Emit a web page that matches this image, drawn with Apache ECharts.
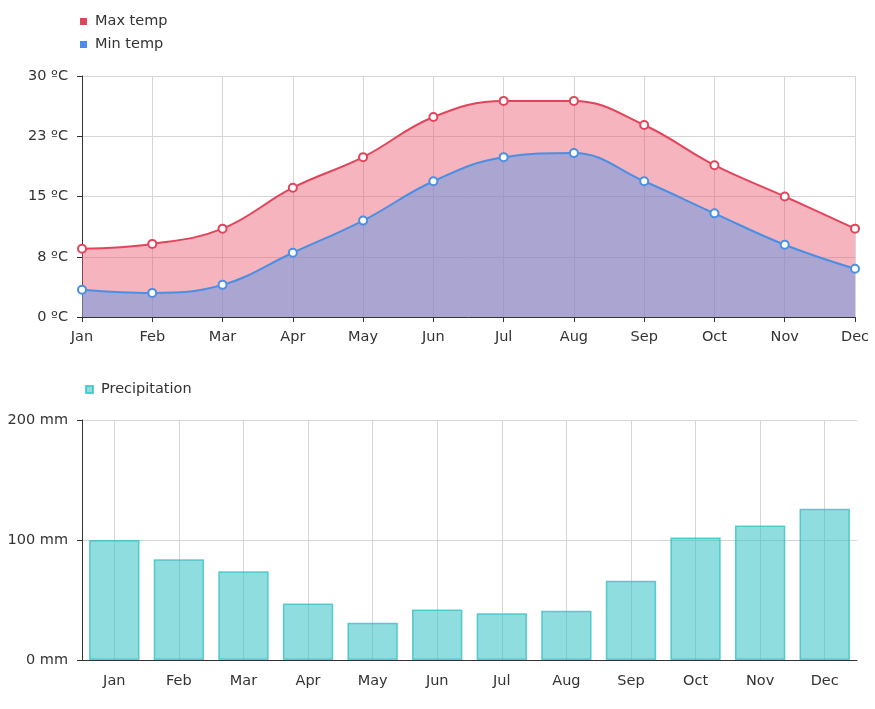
<!DOCTYPE html>
<html><head><meta charset="utf-8">
<script src="https://cdn.jsdelivr.net/npm/echarts@6/dist/echarts.min.js"></script>
<style>html,body{margin:0;padding:0;background:#fff}#c{width:875px;height:709px}</style>
</head><body><div id="c"></div>
<script>
const months = ['Jan','Feb','Mar','Apr','May','Jun','Jul','Aug','Sep','Oct','Nov','Dec'];
const maxTemp = [8.5, 9.1, 11, 16.1, 19.9, 24.9, 26.9, 26.9, 23.9, 18.9, 15, 11];
const minTemp = [3.4, 3.0, 4.0, 8.0, 12, 16.9, 19.9, 20.4, 16.9, 12.9, 9.0, 6.0];
const precipitation = [100, 84, 74, 47, 31, 42, 39, 41, 66, 102, 112, 126];

const FONT = 'DejaVu Sans';
const FS = 14.5;
const red = '#e2455b', blue = '#4a8fe3';
const chart = echarts.init(document.getElementById('c'), null, {renderer:'canvas'});
const axisLabel = {color:'#333', fontFamily:FONT, fontSize:FS};
const legendText = {color:'#333', fontFamily:FONT, fontSize:FS, padding:[0,0,0,3]};
chart.setOption({
  animation:false,
  backgroundColor:'#fff',
  textStyle:{fontFamily:FONT},
  legend:[
    {data:['Max temp','Min temp'], orient:'vertical', left:75, top:9, itemWidth:7, itemHeight:7, itemGap:8, icon:'rect',
     textStyle:legendText},
    {data:['Precipitation'], left:80, top:377, itemWidth:7, itemHeight:7, icon:'rect',
     textStyle:legendText}
  ],
  grid:[
    {left:82, top:76, width:773, height:241},
    {left:82, top:420, width:775, height:240}
  ],
  xAxis:[
    {type:'category', gridIndex:0, data:months, boundaryGap:false,
     axisLine:{lineStyle:{color:'#333'}}, axisTick:{lineStyle:{color:'#333'}},
     axisLabel:Object.assign({margin:13}, axisLabel),
     splitLine:{show:true, lineStyle:{color:'#d6d6d6'}}},
    {type:'category', gridIndex:1, data:months, boundaryGap:true,
     axisLine:{lineStyle:{color:'#333'}}, axisTick:{alignWithLabel:true, lineStyle:{color:'#333'}},
     axisLabel:Object.assign({margin:14}, axisLabel),
     splitLine:{show:true, alignWithLabel:true, lineStyle:{color:'#d6d6d6'}}}
  ],
  yAxis:[
    {type:'value', gridIndex:0, min:0, max:30, interval:7.5,
     axisLine:{show:true, lineStyle:{color:'#333'}}, axisTick:{show:true, lineStyle:{color:'#333'}},
     axisLabel:Object.assign({margin:14, formatter:v=>Math.round(v)+' ºC'}, axisLabel),
     splitLine:{lineStyle:{color:'#d6d6d6'}}},
    {type:'value', gridIndex:1, min:0, max:200, interval:100,
     axisLine:{show:true, lineStyle:{color:'#333'}}, axisTick:{show:true, lineStyle:{color:'#333'}},
     axisLabel:Object.assign({margin:14, formatter:v=>v+' mm'}, axisLabel),
     splitLine:{lineStyle:{color:'#d6d6d6'}}}
  ],
  series:[
    {name:'Max temp', type:'line', xAxisIndex:0, yAxisIndex:0, data:maxTemp, smooth:0.4,
     symbol:'emptyCircle', symbolSize:8, itemStyle:{color:red, borderWidth:1.5}, lineStyle:{color:red, width:2},
     areaStyle:{color:'#ec5a6e', opacity:0.45}},
    {name:'Min temp', type:'line', xAxisIndex:0, yAxisIndex:0, data:minTemp, smooth:0.4,
     symbol:'emptyCircle', symbolSize:8, itemStyle:{color:blue, borderWidth:1.5}, lineStyle:{color:blue, width:2},
     areaStyle:{color:'#5f96e4', opacity:0.5}},
    {name:'Precipitation', type:'bar', xAxisIndex:1, yAxisIndex:1, data:precipitation, barCategoryGap:'22%',
     itemStyle:{color:'rgba(45,191,195,0.53)', borderColor:'rgba(45,191,195,0.75)', borderWidth:1.5}}
  ]
});
</script></body></html>
